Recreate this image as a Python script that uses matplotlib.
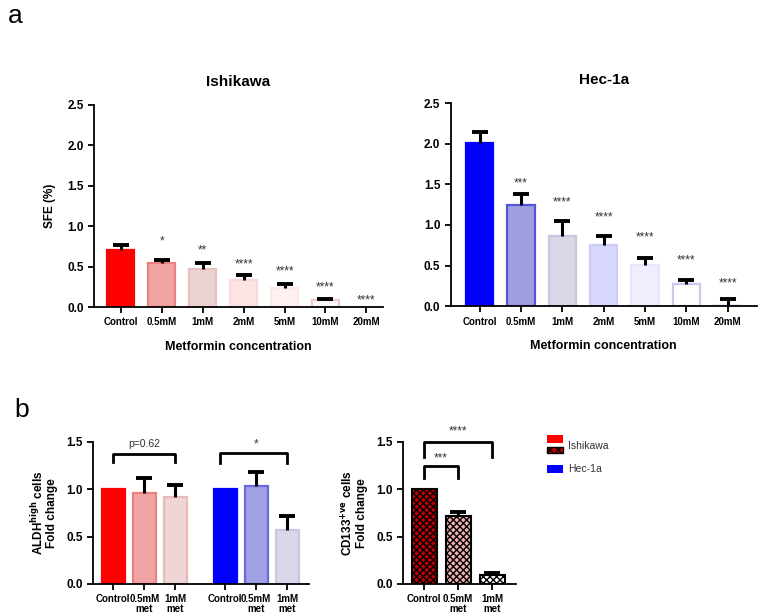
import numpy as np
import matplotlib.pyplot as plt
from matplotlib.patches import Rectangle

plt.rcParams['font.family'] = ['Liberation Sans', 'DejaVu Sans']
plt.rcParams['hatch.linewidth'] = 1.0

# Data (panel a): sphere forming efficiency
conc = ['Control', '0.5mM', '1mM', '2mM', '5mM', '10mM', '20mM']
ish_sfe = [0.71, 0.54, 0.47, 0.34, 0.24, 0.09, 0.005]
ish_err = [0.06, 0.045, 0.07, 0.05, 0.04, 0.012, 0.0]
ish_sig = ['', '*', '**', '****', '****', '****', '****']
ish_sig_y = [0, 0.77, 0.66, 0.495, 0.40, 0.20, 0.05]

hec_sfe = [2.01, 1.24, 0.86, 0.75, 0.51, 0.27, 0.02]
hec_err = [0.14, 0.14, 0.19, 0.12, 0.08, 0.05, 0.065]
hec_sig = ['', '***', '****', '****', '****', '****', '****']
hec_sig_y = [0, 1.48, 1.24, 1.05, 0.81, 0.52, 0.24]

# Data (panel b): fold change
groups = ['Control', '0.5mM\nmet', '1mM\nmet']
aldh_ish = [1.0, 0.957, 0.92]
aldh_ish_err = [0.0, 0.165, 0.13]
aldh_hec = [1.0, 1.034, 0.57]
aldh_hec_err = [0.0, 0.145, 0.15]
cd133_ish = [1.0, 0.72, 0.10]
cd133_ish_err = [0.0, 0.04, 0.02]

# colours
ish_fill = ['#ff0000', '#f0a3a3', '#ecd3d3', '#fde4e4', '#fef0f0', '#fffafa', '#ffffff']
ish_edge = ['#ff0000', '#ea7f7f', '#e8c0c0', '#fbd8d8', '#fde8e8', '#f0c8c8', '#ffffff']
hec_fill = ['#0000ff', '#a0a0e0', '#d8d8e8', '#d8d8fc', '#eeeeff', '#ffffff', '#f4f4ff']
hec_edge = ['#0000ff', '#5555d8', '#c8c8e0', '#ccccf6', '#e6e6fc', '#c8c8f0', '#e8e8fa']


def style_axes(ax, ymax, step):
    for s in ['top', 'right']:
        ax.spines[s].set_visible(False)
    for s in ['left', 'bottom']:
        ax.spines[s].set_linewidth(1.3)
    ax.set_ylim(0, ymax)
    ax.set_yticks(np.arange(0, ymax + 0.01, step))
    ax.yaxis.set_major_formatter(plt.FormatStrFormatter('%.1f'))
    ax.tick_params(width=1.3, length=4)
    for lab in ax.get_yticklabels():
        lab.set_fontweight('bold')
        lab.set_fontsize(8.5)


def upper_err(ax, x, vals, errs):
    # only the upper half of the error bar, like Prism
    x = np.asarray(x, float)
    vals = np.asarray(vals)
    errs = np.asarray(errs)
    m = errs > 0
    ax.vlines(x[m], vals[m], vals[m] + errs[m], color='black', lw=2.2)
    ax.plot(x[m], vals[m] + errs[m], ls='none', marker='_', ms=12, mew=2.8, color='black')


fig = plt.figure(figsize=(7.64, 6.16), dpi=100)

# --- panel a ---
ax1 = fig.add_axes([0.123, 0.5016, 0.378, 0.328])
ax2 = fig.add_axes([0.590, 0.503, 0.4005, 0.3295])
for ax, vals, errs, sig, sy, fc, ec, title, xl in [
        (ax1, ish_sfe, ish_err, ish_sig, ish_sig_y, ish_fill, ish_edge, 'Ishikawa', (-0.66, 6.4)),
        (ax2, hec_sfe, hec_err, hec_sig, hec_sig_y, hec_fill, hec_edge, 'Hec-1a', (-0.7, 6.7))]:
    x = np.arange(len(conc))
    ax.bar(x, vals, width=0.66, color=fc, edgecolor=ec, linewidth=1.6)
    upper_err(ax, x, vals, errs)
    for xi, s, y in zip(x, sig, sy):
        if s:
            ax.text(xi, y, s, ha='center', va='baseline', fontsize=8.5, color='#333333')
    style_axes(ax, 2.5, 0.5)
    ax.set_xlim(*xl)
    ax.set_xticks(x)
    ax.set_xticklabels(conc, fontsize=7, fontweight='bold')
    ax.set_title(title, fontsize=11, fontweight='bold', pad=14)
    ax.set_xlabel('Metformin concentration', fontsize=9, fontweight='bold', labelpad=10)
ax1.set_ylabel('SFE (%)', fontsize=8.5, fontweight='bold', labelpad=8)

# --- panel b: ALDH ---
ax3 = fig.add_axes([0.1217, 0.052, 0.2827, 0.2305])
xr = np.arange(3)
xb = np.arange(3) + 3.6
ax3.bar(xr, aldh_ish, width=0.74, color=['#ff0000', '#f0a3a3', '#efd6d6'],
        edgecolor=['#ff0000', '#ec8080', '#eab9b9'], linewidth=1.6)
ax3.bar(xb, aldh_hec, width=0.74, color=['#0000ff', '#a0a0e4', '#d8d8ea'],
        edgecolor=['#0000ff', '#6a6ae0', '#c8c8e4'], linewidth=1.6)
upper_err(ax3, xr, aldh_ish, aldh_ish_err)
upper_err(ax3, xb, aldh_hec, aldh_hec_err)
style_axes(ax3, 1.5, 0.5)
ax3.set_xlim(-0.65, 6.3)
ax3.set_xticks(np.concatenate([xr, xb]))
ax3.set_xticklabels(groups * 2, fontsize=7, fontweight='bold', linespacing=1.0)
ax3.set_ylabel('ALDH$^{\\mathbf{high}}$ cells\nFold change', fontsize=8.5,
               fontweight='bold', labelpad=6, linespacing=1.0)
ax3.plot([xr[0], xr[0], xr[2], xr[2]], [1.29, 1.37, 1.37, 1.29], color='black', lw=2, clip_on=False)
ax3.text(xr[1], 1.45, 'p=0.62', ha='center', va='baseline', fontsize=7.5, color='#333333')
ax3.plot([xb[0] - 0.15, xb[0] - 0.15, xb[2], xb[2]], [1.28, 1.38, 1.38, 1.28], color='black', lw=2, clip_on=False)
ax3.text(xb[1], 1.44, '*', ha='center', va='baseline', fontsize=8.5, color='#333333')

# --- panel b: CD133 ---
ax4 = fig.add_axes([0.5275, 0.052, 0.148, 0.2305])
xc = np.arange(3)
ax4.bar(xc, cd133_ish, width=0.74, color=['#c00000', '#f0b0b0', '#ffffff'],
        edgecolor='black', linewidth=1.5, hatch='xxxxx')
upper_err(ax4, xc, cd133_ish, cd133_ish_err)
style_axes(ax4, 1.5, 0.5)
ax4.set_xlim(-0.62, 2.7)
ax4.set_xticks(xc)
ax4.set_xticklabels(groups, fontsize=7, fontweight='bold', linespacing=1.0)
ax4.set_ylabel('CD133$^{\\mathbf{+ve}}$ cells\nFold change', fontsize=8.5,
               fontweight='bold', labelpad=6, linespacing=1.0)
ax4.plot([0, 0, 1, 1], [1.12, 1.25, 1.25, 1.12], color='black', lw=2, clip_on=False)
ax4.text(0.5, 1.29, '***', ha='center', va='baseline', fontsize=8.5, color='#333333')
ax4.plot([0, 0, 2, 2], [1.34, 1.50, 1.50, 1.34], color='black', lw=2, clip_on=False)
ax4.text(1.0, 1.58, '****', ha='center', va='baseline', fontsize=8.5, color='#333333', clip_on=False)

# legend (drawn in pixel coordinates)
W, H = 764, 616
def px_rect(x0, y0, w, h, **kw):
    fig.patches.append(Rectangle((x0 / W, 1 - (y0 + h) / H), w / W, h / H,
                                 transform=fig.transFigure, figure=fig, **kw))
px_rect(547, 435, 16, 8, facecolor='#ff0000', edgecolor='none')
px_rect(547, 447, 16, 6, facecolor='#c00000', edgecolor='black', hatch='xxxx', linewidth=1)
px_rect(547, 465, 16, 8, facecolor='#0000ff', edgecolor='none')
fig.text(568 / W, 1 - 446 / H, 'Ishikawa', fontsize=7.5, color='#333333', va='center')
fig.text(568 / W, 1 - 469 / H, 'Hec-1a', fontsize=7.5, color='#333333', va='center')

# panel letters
fig.text(15 / W, 1 - 16 / H, 'a', fontsize=19, ha='center', va='center')
fig.text(22 / W, 1 - 410 / H, 'b', fontsize=19, ha='center', va='center')

fig.savefig('out.png', dpi=100)
